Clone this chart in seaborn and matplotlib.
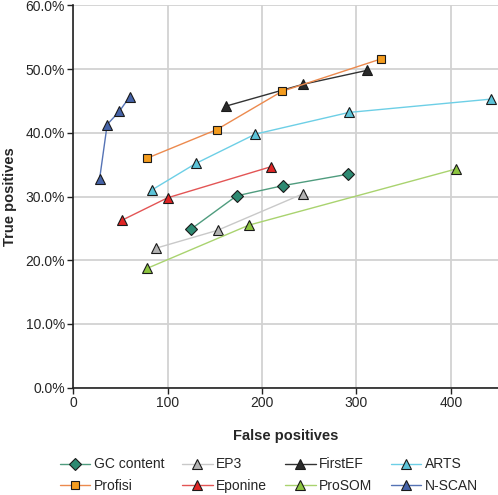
import pandas as pd
import matplotlib
matplotlib.use("Agg")
import matplotlib.pyplot as plt
from matplotlib.ticker import FuncFormatter
import seaborn as sns

# values (x = false positives, y = true positives in %)
gc_fp = [125, 173, 222, 291]
gc_tp = [24.9, 30.1, 31.7, 33.5]
ep3_fp = [88, 153, 243]
ep3_tp = [21.9, 24.7, 30.4]
firstef_fp = [162, 243, 311]
firstef_tp = [44.2, 47.6, 49.8]
arts_fp = [83, 130, 193, 292, 443]
arts_tp = [31.0, 35.2, 39.8, 43.2, 45.3]
profisi_fp = [78, 152, 221, 326]
profisi_tp = [36.0, 40.5, 46.5, 51.6]
eponine_fp = [52, 100, 210]
eponine_tp = [26.3, 29.8, 34.7]
prosom_fp = [78, 186, 405]
prosom_tp = [18.7, 25.5, 34.3]
nscan_fp = [28, 36, 49, 60]
nscan_tp = [32.8, 41.3, 43.4, 45.7]

# name, x, y, marker, line colour, fill colour
series = [
    ("GC content", gc_fp, gc_tp, "D", "#4f9c7e", "#2d8a72"),
    ("EP3", ep3_fp, ep3_tp, "^", "#c9c9c9", "#b3b3b3"),
    ("FirstEF", firstef_fp, firstef_tp, "^", "#333333", "#2a2a2a"),
    ("ARTS", arts_fp, arts_tp, "^", "#6dcfe6", "#5cc3d8"),
    ("Profisi", profisi_fp, profisi_tp, "s", "#ec8a4e", "#f39c1f"),
    ("Eponine", eponine_fp, eponine_tp, "^", "#e35555", "#e02525"),
    ("ProSOM", prosom_fp, prosom_tp, "^", "#a9d36f", "#8cc43f"),
    ("N-SCAN", nscan_fp, nscan_tp, "^", "#5573b5", "#4563a8"),
]

sns.set_style("white")
plt.rcParams["font.family"] = ["Liberation Sans", "DejaVu Sans"]

fig = plt.figure(figsize=(4.98, 4.95), dpi=100)
ax = fig.add_axes([0.147, 0.217, 0.853, 0.772])

for name, fp, tp, mk, lc, fc in series:
    df = pd.DataFrame({"fp": fp, "tp": tp})
    sns.lineplot(data=df, x="fp", y="tp", ax=ax, color=lc, linewidth=1.0,
                 marker=mk, markersize=7 if mk == "^" else 6,
                 markerfacecolor=fc, markeredgecolor="#1a1a1a",
                 markeredgewidth=0.8, label=name)

ax.set_xlim(0, 450)
ax.set_ylim(0, 60)
ax.set_xticks([0, 100, 200, 300, 400])
ax.set_yticks(range(0, 61, 10))
ax.yaxis.set_major_formatter(FuncFormatter(lambda v, p: f"{v:.1f}%"))
ax.grid(True, color="#d2d2d2", linewidth=1.3)
ax.set_axisbelow(True)
for s in ["top", "right"]:
    ax.spines[s].set_visible(False)
for s in ["left", "bottom"]:
    ax.spines[s].set_color("#222222")
    ax.spines[s].set_linewidth(1.2)
ax.tick_params(axis="both", direction="out", length=4, width=1, color="#222222",
               labelsize=10, pad=2, left=True, bottom=True)
ax.set_xlabel("False positives", fontsize=10.5, fontweight="bold", labelpad=14)
ax.set_ylabel("True positives", fontsize=10.5, fontweight="bold", labelpad=6)

# legend fills columns first, so reorder to get the rows as in the reference
handles, labels = ax.get_legend_handles_labels()
order = [0, 4, 1, 5, 2, 6, 3, 7]
ax.legend([handles[i] for i in order], [labels[i] for i in order],
          loc="upper center", bbox_to_anchor=(0.46, -0.15), ncol=4, frameon=False,
          fontsize=10, handlelength=2.2, handletextpad=0.25, columnspacing=1.3,
          labelspacing=0.55)

fig.savefig("out.png", dpi=100)
